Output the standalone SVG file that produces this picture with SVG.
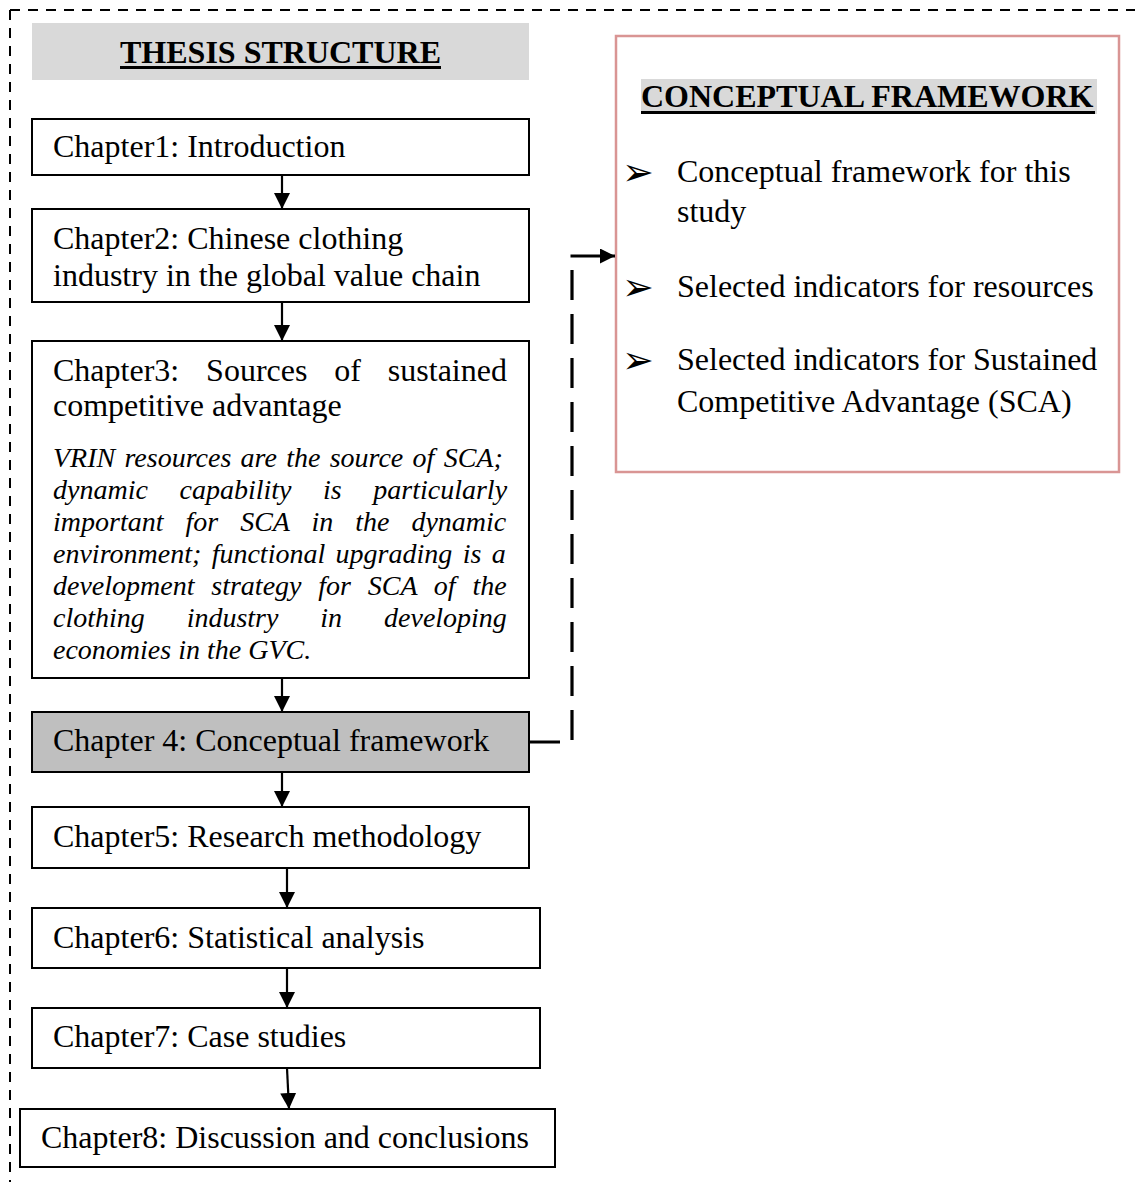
<svg xmlns="http://www.w3.org/2000/svg" width="1135" height="1182" viewBox="0 0 1135 1182">
  <style>
    .box { fill: #ffffff; stroke: #000000; stroke-width: 2; }
    .txt { font-family: "Liberation Serif", "Times New Roman", serif; font-size: 32px; fill: #000000; }
    .ital { font-family: "Liberation Serif", "Times New Roman", serif; font-size: 28px; font-style: italic; fill: #000000; }
    .head { font-family: "Liberation Serif", "Times New Roman", serif; font-size: 32px; font-weight: bold; fill: #000000; }
    .uline { fill: #000000; }
    .bullet { font-family: "DejaVu Sans", sans-serif; font-size: 38px; fill: #000000; }
    .flow { stroke: #000000; stroke-width: 2.2; fill: none; marker-end: url(#arrow); }
    .frame { stroke: #000000; stroke-width: 2; stroke-dasharray: 10 8; fill: none; }
  </style>
  <defs>
    <marker id="arrow" viewBox="0 0 16 16" refX="16" refY="8" markerWidth="16" markerHeight="16" markerUnits="userSpaceOnUse" orient="auto">
      <path d="M0,0 L16,8 L0,16 Z" fill="#000000"/>
    </marker>
    <marker id="arrow-link" viewBox="0 0 15 15" refX="15" refY="7.5" markerWidth="15" markerHeight="15" markerUnits="userSpaceOnUse" orient="auto">
      <path d="M0,0 L15,7.5 L0,15 Z" fill="#000000"/>
    </marker>
  </defs>

  <!-- outer dashed frame (top and left edges) -->
  <g id="frame">
    <line class="frame" x1="10" y1="10" x2="1135" y2="10"/>
    <line class="frame" x1="10" y1="10" x2="10" y2="1182"/>
  </g>

  <!-- left column heading -->
  <g id="thesis-structure">
    <rect x="32" y="23" width="497" height="57" fill="#d9d9d9"/>
    <text class="head" x="280.5" y="63" text-anchor="middle">THESIS STRUCTURE</text>
    <rect class="uline" x="120" y="66" width="321" height="3"/>
  </g>

  <g id="ch1">
    <rect class="box" x="32" y="119" width="497" height="56"/>
    <text class="txt" x="53" y="157">Chapter1: Introduction</text>
  </g>

  <g id="ch2">
    <rect class="box" x="32" y="209" width="497" height="93"/>
    <text class="txt" x="53" y="249">Chapter2: Chinese clothing</text>
    <text class="txt" x="53" y="286">industry in the global value chain</text>
  </g>

  <g id="ch3">
    <rect class="box" x="32" y="341" width="497" height="337"/>
    <text class="txt" x="53" y="381" word-spacing="18.9">Chapter3: Sources of sustained</text>
    <text class="txt" x="53" y="416">competitive advantage</text>
    <text class="ital" x="53" y="467" word-spacing="2.3">VRIN resources are the source of SCA;</text>
    <text class="ital" x="53" y="499" word-spacing="24.6">dynamic capability is particularly</text>
    <text class="ital" x="53" y="531" word-spacing="15">important for SCA in the dynamic</text>
    <text class="ital" x="53" y="563" word-spacing="3.4">environment; functional upgrading is a</text>
    <text class="ital" x="53" y="595" word-spacing="9.8">development strategy for SCA of the</text>
    <text class="ital" x="53" y="627" word-spacing="34.9">clothing industry in developing</text>
    <text class="ital" x="53" y="659">economies in the GVC.</text>
  </g>

  <g id="ch4">
    <rect x="32" y="712" width="497" height="60" fill="#bfbfbf" stroke="#000000" stroke-width="2"/>
    <text class="txt" x="53" y="751">Chapter 4: Conceptual framework</text>
  </g>

  <g id="ch5">
    <rect class="box" x="32" y="807" width="497" height="61"/>
    <text class="txt" x="53" y="847">Chapter5: Research methodology</text>
  </g>

  <g id="ch6">
    <rect class="box" x="32" y="908" width="508" height="60"/>
    <text class="txt" x="53" y="948">Chapter6: Statistical analysis</text>
  </g>

  <g id="ch7">
    <rect class="box" x="32" y="1008" width="508" height="60"/>
    <text class="txt" x="53" y="1047">Chapter7: Case studies</text>
  </g>

  <g id="ch8">
    <rect class="box" x="20" y="1109" width="535" height="58"/>
    <text class="txt" x="41" y="1148">Chapter8: Discussion and conclusions</text>
  </g>

  <!-- conceptual framework panel -->
  <g id="conceptual-framework">
    <rect x="616" y="36" width="503" height="436" fill="#ffffff" stroke="#d99594" stroke-width="2.5"/>
    <rect x="641" y="79" width="456" height="35" fill="#d9d9d9"/>
    <text class="head" x="641" y="107">CONCEPTUAL FRAMEWORK</text>
    <rect class="uline" x="641" y="111" width="454" height="3"/>
    <text class="bullet" x="622" y="185">➢</text>
    <text class="txt" x="677" y="182">Conceptual framework for this</text>
    <text class="txt" x="677" y="222">study</text>
    <text class="bullet" x="622" y="300">➢</text>
    <text class="txt" x="677" y="297">Selected indicators for resources</text>
    <text class="bullet" x="622" y="373">➢</text>
    <text class="txt" x="677" y="370">Selected indicators for Sustained</text>
    <text class="txt" x="677" y="412">Competitive Advantage (SCA)</text>
  </g>

  <!-- connectors -->
  <g id="connectors">
    <line class="flow" x1="282" y1="175" x2="282" y2="209"/>
    <line class="flow" x1="282" y1="302" x2="282" y2="341"/>
    <line class="flow" x1="282" y1="678" x2="282" y2="712"/>
    <line class="flow" x1="282" y1="772" x2="282" y2="807"/>
    <line class="flow" x1="287" y1="868" x2="287" y2="908"/>
    <line class="flow" x1="287" y1="968" x2="287" y2="1008"/>
    <line class="flow" x1="287" y1="1068" x2="289" y2="1109"/>
    <path d="M530,742 H572 V256" fill="none" stroke="#000000" stroke-width="3.2" stroke-dasharray="30 14"/>
    <line x1="570.5" y1="256" x2="615" y2="256" stroke="#000000" stroke-width="3.2" marker-end="url(#arrow-link)"/>
  </g>
</svg>
